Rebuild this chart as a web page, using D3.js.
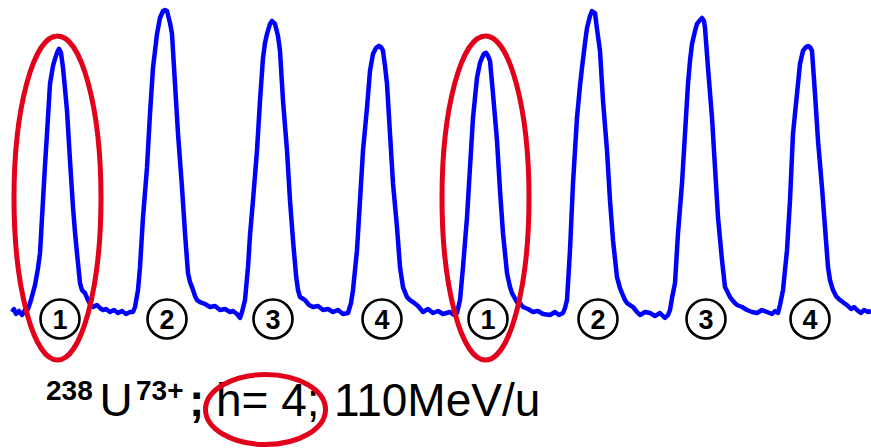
<!DOCTYPE html>
<html>
<head>
<meta charset="utf-8">
<script src="https://cdn.jsdelivr.net/npm/d3@7"></script>
<style>
  body { margin: 0; background: #fff; }
  svg { display: block; font-family: Arial, "Liberation Sans", sans-serif; }
</style>
</head>
<body>
<svg id="bunches"></svg>
<script>
// pickup signal (time in ns, signal in mV)
const time = [
  12,14,16,19,22,25,28,
  31,35,38,40,43,45,47,50,53,55,57,59,61,63,65,67,70,73,75,77,80,82,85,88,90,93,97,100,103,106,110,114,118,122,126,130,
  133,135,138,140,143,147,150,153,157,160,163,165,167,170,172,175,178,182,185,188,190,192,195,197,200,205,210,215,220,225,230,233,237,240,
  242,245,248,250,253,257,260,263,265,267,270,272,275,278,280,283,287,290,293,296,298,300,305,309,313,318,323,328,333,338,343,348,
  351,353,357,360,363,367,370,373,376,379,381,383,385,387,390,393,397,400,403,407,410,413,418,423,428,433,438,443,450,454,457,
  460,463,467,470,473,477,480,482,484,486,488,490,493,497,500,503,507,510,512,517,520,523,528,533,538,543,550,555,559,563,
  565,567,570,573,577,580,582,585,587,590,592,595,597,600,603,607,610,613,617,620,622,625,627,630,633,637,640,645,650,655,660,665,668,670,
  672,675,678,682,685,688,690,692,695,697,700,702,704,705,708,712,715,718,722,725,728,730,734,737,742,747,752,757,762,767,772,775,778,
  780,783,787,790,793,797,800,803,806,808,810,812,815,818,822,825,828,830,833,836,840,844,847,851,854,857,861,864,868,871
];
const signal = [
  1,4,-1,2,-2,3,4,
  13,28,45,60,113,148,180,230,248,255,261,265,261,246,225,203,153,106,81,60,30,23,20,13,9,6,8,5,3,4,1,3,0,2,-1,1,
  1,6,23,46,96,146,200,246,280,296,303,304,303,291,280,230,180,126,80,40,31,26,17,13,11,9,6,7,3,4,1,2,-1,-5,
  1,13,46,78,113,163,213,256,271,280,290,293,290,278,263,213,163,113,73,38,23,16,13,8,6,7,3,4,1,3,-1,0,
  10,23,63,113,163,206,243,260,266,268,267,263,248,230,180,130,86,46,26,16,13,11,7,1,4,0,2,-1,1,-2,0,
  13,46,96,146,196,236,251,256,260,261,258,253,220,173,123,80,40,26,20,11,10,6,4,1,2,-1,-2,1,-2,0,
  5,13,63,130,196,228,246,271,286,298,303,301,285,263,213,163,113,73,36,25,20,13,10,8,6,1,-2,1,0,-3,0,-5,-2,3,
  15,30,80,130,180,230,253,270,283,290,294,296,293,286,246,196,146,96,53,26,20,16,11,8,6,3,1,0,3,1,-1,2,0,
  8,23,63,113,180,220,250,263,267,268,267,263,220,173,126,86,46,33,23,17,13,10,8,4,6,3,0,3,1,2
];

// bunch labels under each peak, and the time where each label sits
const bunchLabels = ["1","2","3","4","1","2","3","4"];
const bunchTimes = [60, 167, 273, 382, 488, 598, 706, 810];
const highlighted = [0, 4];

const width = 871, height = 448;

const svg = d3.select("#bunches")
  .attr("width", width)
  .attr("height", height);

const x = d3.scaleLinear().domain([0, 871]).range([0, 871]);
const y = d3.scaleLinear().domain([0, 300]).range([313, 14]);

const points = time.map((t, i) => ({t: t, v: signal[i]}));

const line = d3.line()
  .x(d => x(d.t))
  .y(d => y(d.v));

svg.append("path")
  .datum(points)
  .attr("d", line)
  .attr("fill", "none")
  .attr("stroke", "#0000ff")
  .attr("stroke-width", 4.5)
  .attr("stroke-linejoin", "round");

// numbered circles
const labels = svg.selectAll(".bunch")
  .data(bunchLabels)
  .enter()
  .append("g")
  .attr("class", "bunch")
  .attr("transform", (d, i) => `translate(${x(bunchTimes[i])}, 319)`);

labels.append("circle")
  .attr("r", 19.5)
  .attr("fill", "#fff")
  .attr("stroke", "#000")
  .attr("stroke-width", 2.6);

labels.append("text")
  .attr("text-anchor", "middle")
  .attr("y", 9.5)
  .style("font-size", "27px")
  .style("font-weight", "bold")
  .text(d => d);

// red ellipses round bunch 1
svg.selectAll(".mark")
  .data(highlighted)
  .enter()
  .append("ellipse")
  .attr("class", "mark")
  .attr("cx", d => x(bunchTimes[d]) - 2.5)
  .attr("cy", 198)
  .attr("rx", 43.5)
  .attr("ry", 162)
  .attr("fill", "none")
  .attr("stroke", "#e2001a")
  .attr("stroke-width", 5);

// caption
const caption = svg.append("text")
  .attr("y", 416)
  .style("font-size", "46px")
  .attr("fill", "#000");

caption.append("tspan").attr("x", 46).attr("y", 400)
  .style("font-size", "28px").style("font-weight", "bold").text("238");
caption.append("tspan").attr("x", 99.5).attr("y", 416).text("U");
caption.append("tspan").attr("x", 136).attr("y", 400)
  .style("font-size", "28px").style("font-weight", "bold").text("73+");
caption.append("tspan").attr("x", 189).attr("y", 416)
  .style("font-weight", "bold").text(";");
caption.append("tspan").attr("x", 216).attr("y", 416).text("h= 4;");
caption.append("tspan").attr("x", 334).attr("y", 416).text("110MeV/u");

svg.append("ellipse")
  .attr("cx", 265.5)
  .attr("cy", 409.5)
  .attr("rx", 60)
  .attr("ry", 35)
  .attr("fill", "none")
  .attr("stroke", "#e2001a")
  .attr("stroke-width", 5);
</script>
</body>
</html>
